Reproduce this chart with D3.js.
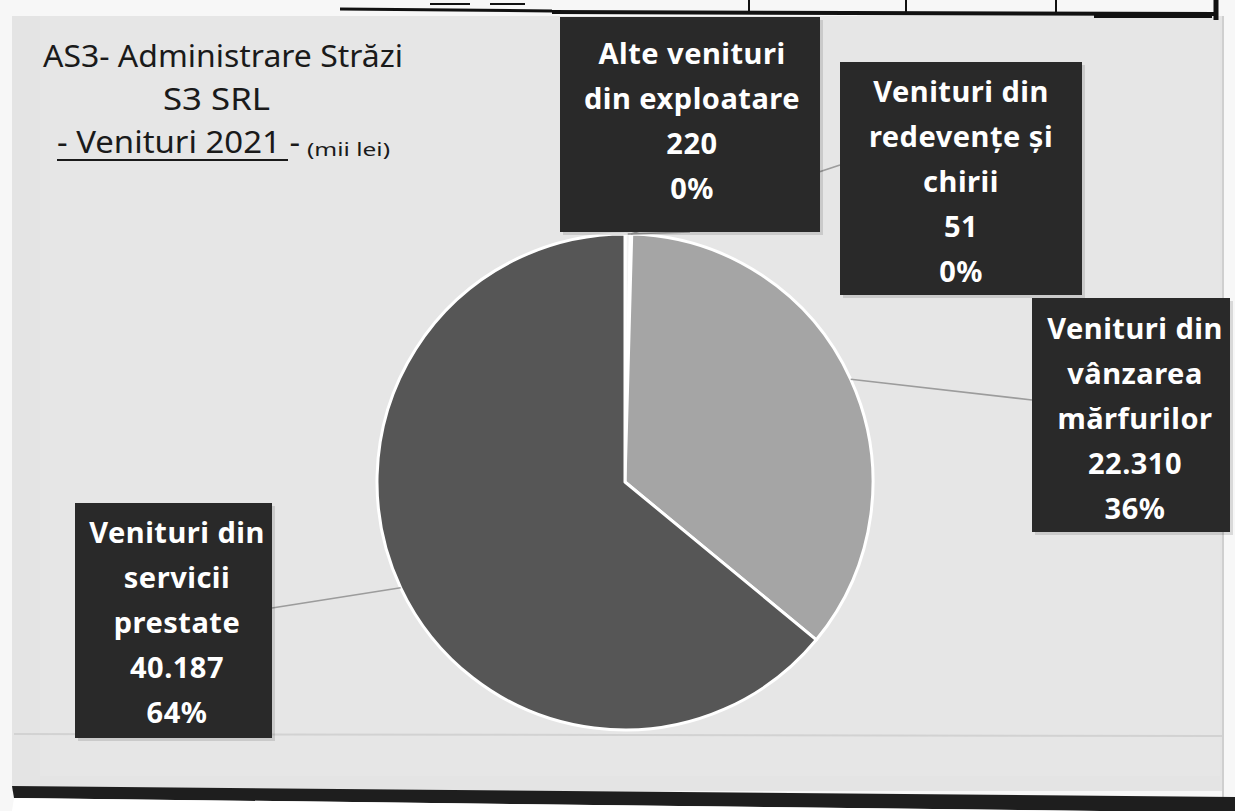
<!DOCTYPE html>
<html>
<head>
<meta charset="utf-8">
<script src="https://cdn.jsdelivr.net/npm/d3@7"></script>
<style>
  html, body { margin: 0; padding: 0; background: #ffffff; }
  svg { display: block; }
</style>
</head>
<body>
<svg id="chart" width="1235" height="811"></svg>
<script>
// ---------- DATA ----------
const categories = [
  "Alte venituri din exploatare",
  "Venituri din redevențe și chirii",
  "Venituri din vânzarea mărfurilor",
  "Venituri din servicii prestate"
];
const values = [220, 51, 22310, 40187];
const titleLines = ["AS3- Administrare Străzi", "S3 SRL", "- Venituri 2021 -"];
const unitLabel = "(mii lei)";

// ---------- LAYOUT / STYLE ----------
const W = 1235, H = 811;
const pieCenter = [625, 482];
const pieRadius = 248;
const sliceColors = ["#f2f2f2", "#7a7a7a", "#a5a5a5", "#565656"];
// word index after which to break lines for each category label
const wrapBreaks = [[2], [2, 4], [2, 3], [2, 3]];
// label boxes: [x0, y0, x1, y1], text centre x, first-line centre y, line height
const labelBoxes = [
  { box: [560, 17, 820, 232], cx: 692, y0: 54, lh: 45, anchorX: 690, anchorY: 232 },
  { box: [840, 62, 1082, 295], cx: 961, y0: 92, lh: 45, anchorX: 840, anchorY: 165 },
  { box: [1032, 298, 1230, 532], cx: 1135, y0: 329, lh: 45, anchorX: 1032, anchorY: 400 },
  { box: [75, 503, 272, 738], cx: 177, y0: 533, lh: 45, anchorX: 272, anchorY: 608 }
];
const labelFont = "'Noto Sans', 'Open Sans', sans-serif";

const locale = d3.formatLocale({ decimal: ",", thousands: ".", grouping: [3], currency: ["", ""] });
const fmtNum = locale.format(",d");
const fmtPct = d3.format(".0%");

const svg = d3.select("#chart");

// ---------- BACKGROUND (scanned page) ----------
svg.append("rect").attr("x", 0).attr("y", 0).attr("width", W).attr("height", H).attr("fill", "#f7f7f7");
svg.append("rect").attr("x", 12).attr("y", 16).attr("width", 1212).attr("height", 775).attr("fill", "#e4e4e4");
svg.append("rect").attr("x", 40).attr("y", 16).attr("width", 1180).attr("height", 760).attr("fill", "#e6e6e6");
svg.append("line").attr("x1", 14).attr("x2", 1222).attr("y1", 734).attr("y2", 736)
  .attr("stroke", "#d2d2d2").attr("stroke-width", 2);
svg.append("line").attr("x1", 1223).attr("x2", 1223).attr("y1", 16).attr("y2", 800)
  .attr("stroke", "#cfcfcf").attr("stroke-width", 2);
// bottom dark edge of scanned sheet
svg.append("path")
  .attr("d", "M12,786 L1235,797 L1235,811 L1100,811 L14,798 Z")
  .attr("fill", "#1e1e1e");
svg.append("path")
  .attr("d", "M14,798 L1100,811 L12,811 Z")
  .attr("fill", "#ffffff");
// table fragment at the top of the scan
const tableG = svg.append("g").attr("stroke", "#111");
tableG.append("line").attr("x1", 552).attr("x2", 1218).attr("y1", 12).attr("y2", 14).attr("stroke-width", 4);
[749, 906, 1056].forEach(x => tableG.append("line").attr("x1", x).attr("x2", x).attr("y1", 0).attr("y2", 13).attr("stroke-width", 2));
tableG.append("line").attr("x1", 1216).attr("x2", 1216).attr("y1", 0).attr("y2", 20).attr("stroke-width", 5);
tableG.append("rect").attr("x", 1094).attr("y", 12).attr("width", 118).attr("height", 6).attr("fill", "#111").attr("stroke", "none");
tableG.append("line").attr("x1", 340).attr("x2", 552).attr("y1", 9).attr("y2", 11).attr("stroke-width", 3);
tableG.append("line").attr("x1", 430).attr("x2", 470).attr("y1", 4).attr("y2", 4).attr("stroke-width", 2);
tableG.append("line").attr("x1", 490).attr("x2", 525).attr("y1", 4).attr("y2", 4).attr("stroke-width", 2);

// ---------- PIE ----------
const pie = d3.pie().sort(null).value(d => d.value).startAngle(0).endAngle(2 * Math.PI);
const data = categories.map((c, i) => ({ name: c, value: values[i], i }));
const arcs = pie(data);
const total = d3.sum(values);
const arc = d3.arc().innerRadius(0).outerRadius(pieRadius);
const edgeArc = d3.arc().innerRadius(pieRadius).outerRadius(pieRadius);

const g = svg.append("g").attr("transform", `translate(${pieCenter[0]},${pieCenter[1]})`);

// leader lines (drawn beneath boxes)
const leaders = svg.append("g");
arcs.forEach((a, i) => {
  const c = edgeArc.centroid(a);
  const lb = labelBoxes[i];
  leaders.append("line")
    .attr("x1", pieCenter[0] + c[0]).attr("y1", pieCenter[1] + c[1])
    .attr("x2", lb.anchorX).attr("y2", lb.anchorY)
    .attr("stroke", "#9c9c9c").attr("stroke-width", 1.6);
});

g.selectAll("path.slice").data(arcs).join("path")
  .attr("class", "slice")
  .attr("d", arc)
  .attr("fill", d => sliceColors[d.data.i])
  .attr("stroke", "#ffffff")
  .attr("stroke-width", 3)
  .attr("stroke-linejoin", "round");

// ---------- DATA LABELS ----------
const labels = svg.append("g");
arcs.forEach((a, i) => {
  const lb = labelBoxes[i];
  const [x0, y0, x1, y1] = lb.box;
  labels.append("rect")
    .attr("x", x0 + 3).attr("y", y0 + 3).attr("width", x1 - x0).attr("height", y1 - y0)
    .attr("fill", "#000").attr("opacity", 0.12);
  labels.append("rect")
    .attr("x", x0).attr("y", y0).attr("width", x1 - x0).attr("height", y1 - y0)
    .attr("fill", "#292929");
  const words = a.data.name.split(" ");
  const breaks = [0, ...wrapBreaks[i], words.length];
  const lines = [];
  for (let k = 0; k < breaks.length - 1; k++) lines.push(words.slice(breaks[k], breaks[k + 1]).join(" "));
  lines.push(fmtNum(a.data.value));
  lines.push(fmtPct(Math.round(a.data.value / total * 100) / 100));
  const t = labels.append("text")
    .attr("text-anchor", "middle")
    .attr("fill", "#ffffff")
    .attr("font-family", labelFont)
    .attr("font-weight", "bold")
    .attr("font-size", 29)
    .attr("letter-spacing", 0.5);
  lines.forEach((ln, k) => {
    t.append("tspan").attr("x", lb.cx).attr("y", lb.y0 + k * lb.lh).attr("dy", "0.36em").text(ln);
  });
});

// ---------- TITLE ----------
const tt = svg.append("g")
  .attr("font-family", labelFont)
  .attr("fill", "#1a1a1a");
tt.append("text").attr("x", 43).attr("y", 67).attr("font-size", 30)
  .attr("textLength", 360).attr("lengthAdjust", "spacingAndGlyphs")
  .text(titleLines[0]);
tt.append("text").attr("x", 163).attr("y", 110).attr("font-size", 30)
  .attr("textLength", 107).attr("lengthAdjust", "spacingAndGlyphs")
  .text(titleLines[1]);
tt.append("text").attr("x", 57).attr("y", 153).attr("font-size", 30)
  .attr("textLength", 243).attr("lengthAdjust", "spacingAndGlyphs")
  .text(titleLines[2]);
tt.append("line").attr("x1", 57).attr("x2", 288).attr("y1", 160).attr("y2", 160)
  .attr("stroke", "#1a1a1a").attr("stroke-width", 2);
tt.append("text").attr("x", 307).attr("y", 156).attr("font-size", 18)
  .attr("textLength", 83).attr("lengthAdjust", "spacingAndGlyphs")
  .text(unitLabel);
</script>
</body>
</html>
